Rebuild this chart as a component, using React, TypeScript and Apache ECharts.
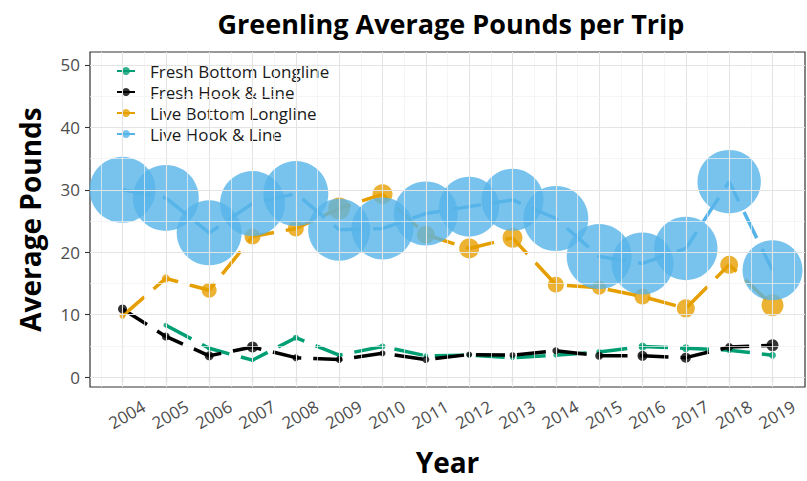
import React, { useEffect, useRef } from 'react';
import * as echarts from 'echarts';

const chartTitle = 'Greenling Average Pounds per Trip';
const xAxisTitle = 'Year';
const yAxisTitle = 'Average Pounds';

const years = [2004, 2005, 2006, 2007, 2008, 2009, 2010, 2011, 2012, 2013, 2014, 2015, 2016, 2017, 2018, 2019];
const yTicks = [0, 10, 20, 30, 40, 50];
const yMinorTicks = [5, 15, 25, 35, 45];
const xMinorTicks = [2003.5, 2004.5, 2005.5, 2006.5, 2007.5, 2008.5, 2009.5, 2010.5, 2011.5, 2012.5, 2013.5, 2014.5, 2015.5, 2016.5, 2017.5, 2018.5, 2019.5];

const seriesNames = ['Fresh Bottom Longline', 'Fresh Hook & Line', 'Live Bottom Longline', 'Live Hook & Line'];

// average pounds per trip
const freshBottomLongline = [null, 8.3, 4.6, 2.7, 6.3, 3.5, 4.9, 3.4, 3.5, 3.1, 3.5, 4.0, 4.9, 4.6, 4.3, 3.5];
const freshHookLine = [10.9, 6.5, 3.4, 4.8, 3.1, 2.8, 3.8, 2.8, 3.6, 3.5, 4.2, 3.4, 3.4, 3.1, 4.8, 5.1];
const liveBottomLongline = [9.8, 15.8, 13.9, 22.5, 23.8, 27.0, 29.3, 22.8, 20.6, 22.3, 14.8, 14.3, 12.9, 11.0, 18.0, 11.5];
const liveHookLine = [30.0, 28.7, 23.1, 27.8, 29.4, 23.6, 23.8, 26.2, 27.3, 28.4, 25.4, 19.3, 18.2, 20.6, 31.3, 17.1];

// relative point-size weights (mapped to marker area)
const freshBottomLonglineWeight = [null, 6, 6, 4, 9, 6, 9, 6, 6, 6, 6, 9, 16, 16, 9, 12];
const freshHookLineWeight = [20, 16, 20, 30, 12, 12, 9, 12, 9, 9, 12, 16, 25, 25, 16, 36];
const liveBottomLonglineWeight = [9, 16, 56, 64, 64, 121, 100, 81, 100, 100, 64, 49, 64, 81, 81, 121];
const liveHookLineWeight = [1089, 1089, 1056, 1056, 1056, 961, 961, 1024, 900, 961, 1056, 1056, 961, 1005, 1005, 900];

const colors = ['#009E73', '#000000', '#E69F00', '#56B4E9'];
const FONT = '"Open Sans", "Noto Sans", sans-serif';

function makeSeries(name: string, values: (number | null)[], weights: (number | null)[], color: string) {
  const data = years
    .map((yr, i) => (values[i] == null ? null : [yr, values[i], weights[i]]))
    .filter((d) => d !== null);
  return {
    type: 'line',
    name,
    data,
    symbol: 'circle',
    symbolSize: (d: number[]) => 2 * Math.sqrt(d[2]),
    showSymbol: true,
    showAllSymbol: true,
    clip: false,
    itemStyle: { color, opacity: 0.8 },
    lineStyle: { color, width: 3.5, type: [29, 12] },
    emphasis: { disabled: true },
    silent: true,
  };
}

export default function App() {
  const ref = useRef<HTMLDivElement>(null);
  useEffect(() => {
    if (!ref.current) return;
    const chart = echarts.init(ref.current, null, { renderer: 'svg' });
    const major = { color: '#e4e4e4', width: 1.1, type: 'solid' };
    const minor = { color: '#f0f0f0', width: 0.7, type: 'solid' };
    const gridLines = [
      ...years.map((v) => ({ xAxis: v, lineStyle: major })),
      ...xMinorTicks.map((v) => ({ xAxis: v, lineStyle: minor })),
      ...yTicks.map((v) => ({ yAxis: v, lineStyle: major })),
      ...yMinorTicks.map((v) => ({ yAxis: v, lineStyle: minor })),
    ];
    const option: any = {
      animation: false,
      backgroundColor: '#ffffff',
      textStyle: { fontFamily: FONT },
      grid: {
        left: 90,
        right: 2,
        top: 52,
        bottom: 94,
        outerBoundsMode: 'none',
        containLabel: false,
        show: true,
        backgroundColor: '#ffffff',
        borderColor: '#333333',
        borderWidth: 1.2,
      },
      graphic: [
        {
          type: 'text',
          x: 451,
          y: 23,
          style: {
            text: chartTitle,
            fontFamily: FONT,
            fontSize: 27,
            fontWeight: 'bold',
            fill: '#000000',
            align: 'center',
            verticalAlign: 'middle',
          },
        },
      ],
      legend: {
        data: seriesNames,
        orient: 'vertical',
        left: 111,
        top: 56,
        itemWidth: 18,
        itemHeight: 10,
        itemGap: 1,
        textStyle: {
          fontFamily: FONT,
          fontSize: 17,
          color: '#1a1a1a',
          lineHeight: 20,
          padding: [0, 0, 0, 10],
        },
        selectedMode: false,
      },
      xAxis: {
        type: 'value',
        min: 2003.25,
        max: 2019.75,
        axisLine: { show: false },
        splitLine: { show: false },
        axisTick: { show: true, customValues: years, length: 5, lineStyle: { color: '#333333', width: 1.1 } },
        axisLabel: {
          customValues: years,
          formatter: (v: number) => String(v),
          rotate: 30,
          align: 'center',
          verticalAlign: 'middle',
          margin: 30,
          padding: [0, 0, 0, 10],
          fontSize: 17,
          color: '#4d4d4d',
          fontFamily: FONT,
        },
        name: xAxisTitle,
        nameLocation: 'middle',
        nameGap: 61,
        nameTextStyle: { fontFamily: FONT, fontSize: 28, fontWeight: 'bold', color: '#000000' },
      },
      yAxis: {
        type: 'value',
        min: -1.6,
        max: 52.08,
        axisLine: { show: false },
        splitLine: { show: false },
        axisTick: { show: true, customValues: yTicks, length: 5, lineStyle: { color: '#333333', width: 1.1 } },
        axisLabel: {
          customValues: yTicks,
          formatter: (v: number) => String(v),
          margin: 10,
          fontSize: 17,
          color: '#4d4d4d',
          fontFamily: FONT,
        },
        name: yAxisTitle,
        nameLocation: 'middle',
        nameGap: 46,
        nameTextStyle: { fontFamily: FONT, fontSize: 28, fontWeight: 'bold', color: '#000000' },
      },
      series: [
        {
          type: 'line',
          name: '__grid__',
          data: [],
          silent: true,
          markLine: {
            silent: true,
            symbol: ['none', 'none'],
            label: { show: false },
            emphasis: { disabled: true },
            data: gridLines,
          },
        },
        makeSeries(seriesNames[0], freshBottomLongline, freshBottomLonglineWeight, colors[0]),
        makeSeries(seriesNames[1], freshHookLine, freshHookLineWeight, colors[1]),
        makeSeries(seriesNames[2], liveBottomLongline, liveBottomLonglineWeight, colors[2]),
        makeSeries(seriesNames[3], liveHookLine, liveHookLineWeight, colors[3]),
      ],
    };
    chart.setOption(option);
    return () => chart.dispose();
  }, []);
  return <div ref={ref} style={{ position: 'fixed', left: 0, top: 0, width: 807, height: 481 }} />;
}
